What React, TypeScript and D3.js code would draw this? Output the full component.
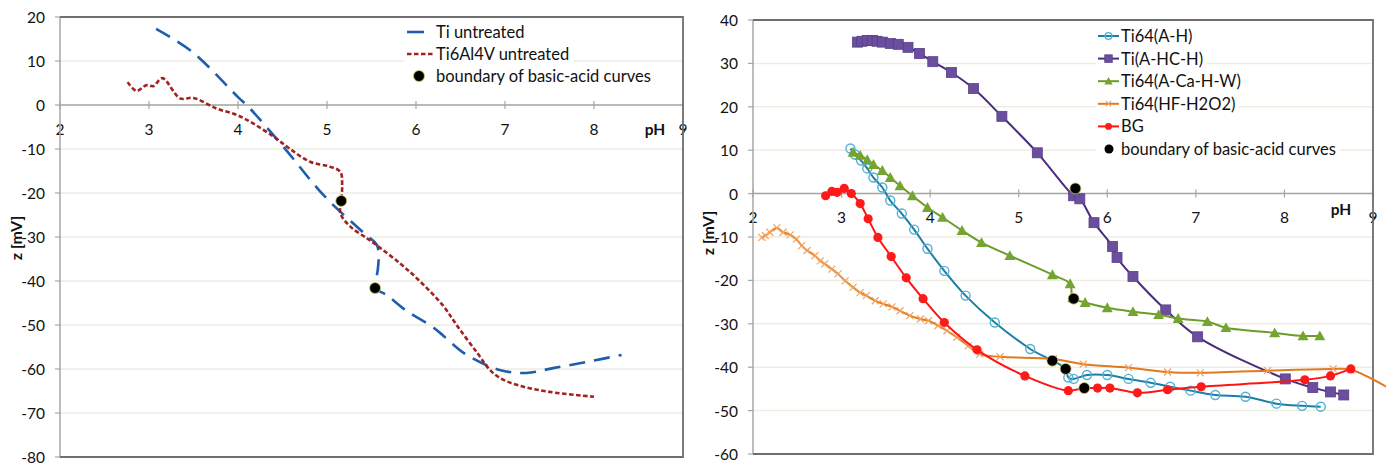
import React from "react";
import * as d3 from "d3";

// ---- left panel: untreated samples ----
const tiUntreatedPH = [3.08, 3.49, 4.0, 4.13, 4.51, 4.98, 5.42, 5.56, 5.58, 5.57, 5.55, 5.54, 5.67, 5.88, 6.19, 6.57, 6.94, 7.24, 7.54, 7.92, 8.31];
const tiUntreatedZ = [17.3, 12.0, 1.8, -0.7, -9.5, -20.9, -29.2, -31.8, -34.5, -37.5, -39.8, -41.6, -43.2, -46.6, -50.5, -56.8, -60.2, -60.9, -59.8, -58.4, -56.8];

const ti6al4vPH = [2.76, 2.86, 2.97, 3.05, 3.15, 3.35, 3.5, 3.76, 3.99, 4.17, 4.4, 4.58, 4.81, 5.03, 5.15, 5.17, 5.16, 5.15, 5.26, 5.45, 5.56, 5.82, 6.01, 6.3, 6.47, 6.69, 6.83, 6.94, 7.13, 7.5, 8.0];
const ti6al4vZ = [5.2, 3.2, 4.5, 4.3, 6.1, 1.5, 1.6, -0.8, -2.3, -4.2, -7.2, -9.9, -12.9, -14.0, -15.2, -18.6, -21.8, -24.6, -27.6, -30.3, -31.9, -36.0, -39.4, -45.5, -50.4, -56.4, -60.2, -62.0, -63.6, -65.2, -66.3];

const leftBoundaryPH = [5.16, 5.54];
const leftBoundaryZ = [-21.8, -41.6];

const leftYTicks = [20, 10, 0, -10, -20, -30, -40, -50, -60, -70, -80];
const rightYTicks = [40, 30, 20, 10, 0, -10, -20, -30, -40, -50, -60];
const xTicks = [2, 3, 4, 5, 6, 7, 8, 9];

// ---- right panel: treated samples ----
const ti64AH_PH = [3.1, 3.15, 3.22, 3.29, 3.36, 3.46, 3.55, 3.68, 3.82, 3.97, 4.16, 4.4, 4.73, 5.13, 5.53, 5.56, 5.62, 5.77, 6.0, 6.24, 6.49, 6.71, 6.94, 7.22, 7.56, 7.91, 8.2, 8.41];
const ti64AH_Z = [10.4, 9.0, 7.6, 5.8, 3.7, 1.4, -1.6, -4.6, -8.3, -12.7, -17.8, -23.5, -29.7, -35.8, -40.4, -42.4, -42.7, -41.8, -41.8, -42.7, -43.6, -44.5, -45.4, -46.4, -46.8, -48.4, -48.9, -49.1];

const tiAHCH_PH = [3.18, 3.23, 3.29, 3.35, 3.4, 3.46, 3.55, 3.64, 3.75, 3.88, 4.03, 4.24, 4.49, 4.81, 5.21, 5.62, 5.69, 5.85, 6.06, 6.11, 6.29, 6.66, 7.02, 8.01, 8.32, 8.52, 8.67];
const tiAHCH_Z = [34.9, 35.1, 35.3, 35.3, 35.1, 34.9, 34.6, 34.4, 33.7, 32.3, 30.4, 27.9, 24.2, 17.8, 9.4, -0.5, -1.2, -6.7, -12.2, -14.7, -19.1, -26.8, -33.0, -42.7, -44.7, -45.7, -46.4];

const ti64ACaHW_PH = [3.13, 3.21, 3.29, 3.36, 3.46, 3.55, 3.66, 3.8, 3.97, 4.14, 4.36, 4.58, 4.9, 5.38, 5.58, 5.61, 5.75, 6.0, 6.29, 6.58, 6.8, 7.13, 7.34, 7.89, 8.21, 8.4];
const ti64ACaHW_Z = [9.5, 8.8, 7.8, 6.7, 5.3, 3.7, 1.8, -0.5, -3.2, -5.5, -8.5, -11.3, -14.3, -18.7, -20.8, -24.0, -25.1, -26.3, -27.2, -27.9, -28.8, -29.5, -30.9, -32.1, -32.8, -32.8];

const ti64HF_PH = [2.1, 2.14, 2.19, 2.27, 2.34, 2.42, 2.49, 2.55, 2.61, 2.7, 2.76, 2.81, 2.89, 2.96, 3.04, 3.13, 3.21, 3.28, 3.38, 3.47, 3.57, 3.66, 3.77, 3.89, 3.98, 4.09, 4.19, 4.3, 4.43, 4.56, 4.79, 5.39, 5.73, 6.24, 6.68, 7.05, 7.81, 8.55, 8.75, 9.15];
const ti64HF_Z = [-10.1, -9.7, -8.9, -7.9, -8.9, -9.5, -10.5, -12.0, -13.1, -14.3, -15.5, -16.2, -17.4, -18.5, -20.1, -21.6, -22.8, -23.5, -24.7, -25.4, -26.1, -27.0, -28.1, -28.9, -29.3, -30.4, -31.6, -33.1, -35.1, -37.0, -37.6, -38.1, -39.3, -40.1, -41.1, -41.3, -40.8, -40.4, -40.6, -44.5];

const bgPH = [2.82, 2.89, 2.95, 3.03, 3.11, 3.21, 3.3, 3.41, 3.56, 3.73, 3.92, 4.16, 4.53, 5.07, 5.56, 5.74, 5.89, 6.03, 6.34, 6.68, 7.06, 8.23, 8.52, 8.75];
const bgZ = [-0.5, 0.5, 0.3, 1.2, 0, -2.3, -5.8, -10.1, -14.5, -19.4, -24.2, -29.7, -36.0, -42.0, -45.4, -44.8, -44.8, -44.8, -45.9, -45.2, -44.5, -42.9, -42.0, -40.4];

const rightBoundaryPH = [5.64, 5.62, 5.38, 5.53, 5.74];
const rightBoundaryZ = [1.2, -24.2, -38.5, -40.4, -44.8];

const FONT = "Lato, 'Open Sans', sans-serif";
const FS = 15.5;
const LEG_FS = 16.5;
const INK = "#111";
const GRID = "#eeede2";
const AXIS = "#a6a6a6";
const BORDER = "#6e6e6e";

let ctx: CanvasRenderingContext2D | null = null;
function textW(s: string) {
  if (!ctx) ctx = document.createElement("canvas").getContext("2d");
  if (!ctx) return s.length * 8;
  ctx.font = `${LEG_FS}px Lato`;
  return ctx.measureText(s).width;
}

const zip = (xs: number[], ys: number[]) => xs.map((x, i) => [x, ys[i]] as [number, number]);

type Scale = d3.ScaleLinear<number, number>;

function Frame({ x, y, yTicks, zeroY, labelY, phY, phX, yLabelX, yLabelY }: {
  x: Scale; y: Scale; yTicks: number[]; zeroY: number; labelY: number; phY: number; phX: number; yLabelX: number; yLabelY: number;
}) {
  const [x0, x1] = x.range();
  const [yb, yt] = y.range();
  return (
    <g fontFamily={FONT} fontSize={FS} fill={INK}>
      {yTicks.map((t) => (
        <line key={"g" + t} x1={x0} x2={x1} y1={y(t)} y2={y(t)} stroke={GRID} strokeWidth={1.5} />
      ))}
      {/* zero line with crossing ticks */}
      <line x1={x0} x2={x1} y1={zeroY} y2={zeroY} stroke={AXIS} strokeWidth={1.5} />
      {xTicks.map((t) => (
        <line key={"xt" + t} x1={x(t)} x2={x(t)} y1={zeroY - 4} y2={zeroY + 4} stroke={AXIS} strokeWidth={1.2} />
      ))}
      {xTicks.map((t) => (
        <text key={"xl" + t} x={x(t)} y={labelY} textAnchor="middle" dominantBaseline="central">{t}</text>
      ))}
      <text x={phX} y={phY} textAnchor="middle" dominantBaseline="central" fontWeight="bold">pH</text>
      {/* left axis */}
      <line x1={x0} x2={x0} y1={yt} y2={yb} stroke={AXIS} strokeWidth={1.5} />
      {yTicks.map((t) => (
        <g key={"yt" + t}>
          <line x1={x0 - 5} x2={x0} y1={y(t)} y2={y(t)} stroke={AXIS} strokeWidth={1.2} />
          <text x={x0 - 15} y={y(t)} textAnchor="end" dominantBaseline="central">{t}</text>
        </g>
      ))}
      {/* border */}
      <path d={`M${x0},${yt}H${x1}V${yb}H${x0}`} fill="none" stroke={BORDER} strokeWidth={1.8} />
      <text transform={`translate(${yLabelX},${yLabelY}) rotate(-90)`} textAnchor="middle" dominantBaseline="central" fontWeight="bold" fontSize={16}>z [mV]</text>
    </g>
  );
}

function BlackDot({ cx, cy }: { cx: number; cy: number }) {
  return <circle cx={cx} cy={cy} r={5.5} fill="#000" stroke="#c9d36c" strokeWidth={0.8} />;
}

function Marker({ kind, cx, cy, s = 1 }: { kind: string; cx: number; cy: number; s?: number }) {
  if (kind === "circle") return <circle cx={cx} cy={cy} r={4.5 * s} fill="none" stroke="#4fb1d6" strokeWidth={1.4} />;
  if (kind === "square") return <rect x={cx - 5 * s} y={cy - 5 * s} width={10 * s} height={10 * s} fill="#6b4e9e" stroke="#58408a" strokeWidth={0.8} />;
  if (kind === "triangle") {
    const h = 5.5 * s;
    return <path d={`M${cx},${cy - h}L${cx + h},${cy + h * 0.8}L${cx - h},${cy + h * 0.8}Z`} fill="#76a431" />;
  }
  if (kind === "x") {
    const h = 3.5 * s;
    return <path d={`M${cx - h},${cy - h}L${cx + h},${cy + h}M${cx - h},${cy + h}L${cx + h},${cy - h}`} stroke="#f2a25e" strokeWidth={1.2} />;
  }
  return <circle cx={cx} cy={cy} r={4.6 * s} fill="#ff1a1a" />;
}

function LeftChart() {
  const x = d3.scaleLinear().domain([2, 9]).range([60, 683]);
  const y = d3.scaleLinear().domain([-80, 20]).range([457, 17]);
  const line = d3.line<[number, number]>().x((d) => x(d[0])).y((d) => y(d[1])).curve(d3.curveCatmullRom.alpha(0.5));
  const legend = [
    { label: "Ti untreated", kind: "blue" },
    { label: "Ti6Al4V untreated", kind: "red" },
    { label: "boundary of basic-acid curves", kind: "dot" },
  ];
  return (
    <g>
      <Frame x={x} y={y} yTicks={leftYTicks} zeroY={y(0)} labelY={129} phX={655} phY={129} yLabelX={15} yLabelY={238} />
      <path d={line(zip(tiUntreatedPH, tiUntreatedZ)) || ""} fill="none" stroke="#1f5eac" strokeWidth={2.6} strokeDasharray="16 9" />
      <path d={line(zip(ti6al4vPH, ti6al4vZ)) || ""} fill="none" stroke="#a3211f" strokeWidth={2.6} strokeDasharray="4.5 2.5" />
      {leftBoundaryPH.map((p, i) => (
        <BlackDot key={i} cx={x(p)} cy={y(leftBoundaryZ[i])} />
      ))}
      <g fontFamily={FONT} fontSize={LEG_FS} fill={INK}>
        {legend.map((d, i) => {
          const cy = 32 + i * 22;
          return (
            <g key={d.label}>
              <rect x={404} y={cy - 10} width={textW(d.label) + 36} height={20} fill="#fff" />
              {d.kind === "blue" && <line x1={407} x2={424} y1={cy} y2={cy} stroke="#1f5eac" strokeWidth={2.6} />}
              {d.kind === "red" && <line x1={407} x2={434} y1={cy} y2={cy} stroke="#a3211f" strokeWidth={2.6} strokeDasharray="4.5 2.5" />}
              {d.kind === "dot" && <BlackDot cx={419} cy={cy} />}
              <text x={436} y={cy} dominantBaseline="central">{d.label}</text>
            </g>
          );
        })}
      </g>
    </g>
  );
}

function RightChart() {
  const x = d3.scaleLinear().domain([2, 9]).range([753, 1373]);
  const y = d3.scaleLinear().domain([-60, 40]).range([454, 20]);
  const line = d3.line<[number, number]>().x((d) => x(d[0])).y((d) => y(d[1])).curve(d3.curveCatmullRom.alpha(0.5));
  const series = [
    { label: "Ti64(A-H)", ph: ti64AH_PH, z: ti64AH_Z, color: "#1d7fa3", kind: "circle" },
    { label: "Ti(A-HC-H)", ph: tiAHCH_PH, z: tiAHCH_Z, color: "#4a2c7e", kind: "square" },
    { label: "Ti64(A-Ca-H-W)", ph: ti64ACaHW_PH, z: ti64ACaHW_Z, color: "#6c9c2a", kind: "triangle" },
    { label: "Ti64(HF-H2O2)", ph: ti64HF_PH, z: ti64HF_Z, color: "#e07a1f", kind: "x" },
    { label: "BG", ph: bgPH, z: bgZ, color: "#ff1414", kind: "dot" },
  ];
  return (
    <g>
      <Frame x={x} y={y} yTicks={rightYTicks} zeroY={y(0)} labelY={217} phX={1341} phY={209} yLabelX={707} yLabelY={233} />
      {series.map((s) => {
        const pts = zip(s.ph, s.z);
        const marked = s.kind === "x" ? pts.slice(0, -1) : pts;
        return (
          <g key={s.label}>
            <path d={line(pts) || ""} fill="none" stroke={s.color} strokeWidth={2} />
            {marked.map((p, i) => (
              <Marker key={i} kind={s.kind} cx={x(p[0])} cy={y(p[1])} />
            ))}
          </g>
        );
      })}
      {rightBoundaryPH.map((p, i) => (
        <BlackDot key={i} cx={x(p)} cy={y(rightBoundaryZ[i])} />
      ))}
      <g fontFamily={FONT} fontSize={LEG_FS} fill={INK}>
        {[...series.map((s) => s.label), "boundary of basic-acid curves"].map((label, i) => {
          const cy = 36 + i * 22.6;
          const s = series[i];
          return (
            <g key={label}>
              <rect x={1096} y={cy - 10} width={textW(label) + 28} height={20} fill="#fff" />
              {s ? (
                <>
                  <line x1={1098} x2={1119} y1={cy} y2={cy} stroke={s.color} strokeWidth={2} />
                  <Marker kind={s.kind} cx={1108.5} cy={cy} s={0.75} />
                </>
              ) : (
                <circle cx={1109} cy={cy} r={4.5} fill="#000" />
              )}
              <text x={1121} y={cy} dominantBaseline="central">{label}</text>
            </g>
          );
        })}
      </g>
    </g>
  );
}

export default function App() {
  return (
    <svg width={1386} height={466} style={{ position: "absolute", left: 0, top: 0, background: "#fff" }}>
      <LeftChart />
      <RightChart />
    </svg>
  );
}
